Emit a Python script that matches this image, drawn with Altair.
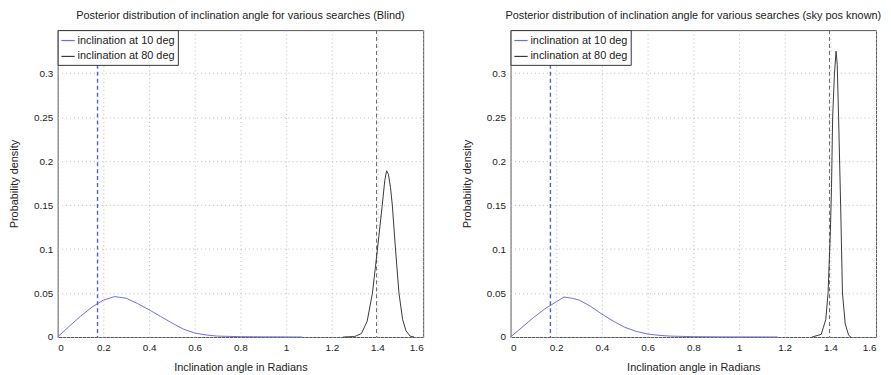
import altair as alt
import pandas as pd

# ---- data ----
blind_x10 = [0, 0.05, 0.1, 0.15, 0.2, 0.25, 0.3, 0.35, 0.4, 0.45, 0.5, 0.55, 0.6, 0.65, 0.7, 0.8, 0.9, 1.0, 1.07]
blind_y10 = [0, 0.012, 0.0235, 0.034, 0.042, 0.046, 0.044, 0.038, 0.031, 0.0235, 0.016, 0.009, 0.0045, 0.0023, 0.001, 0.0004, 0.0002, 0.0001, 0]
blind_x80 = [1.25, 1.30, 1.33, 1.355, 1.378, 1.40, 1.421, 1.432, 1.44, 1.448, 1.457, 1.465, 1.479, 1.494, 1.51, 1.525, 1.543, 1.56]
blind_y80 = [0, 0.0005, 0.004, 0.018, 0.05, 0.10, 0.15, 0.178, 0.189, 0.185, 0.17, 0.15, 0.10, 0.05, 0.02, 0.007, 0.001, 0]

sky_x10 = [0, 0.05, 0.1, 0.15, 0.2, 0.234, 0.27, 0.3, 0.35, 0.4, 0.45, 0.5, 0.55, 0.6, 0.65, 0.7, 0.8, 0.9, 1.0, 1.1, 1.17]
sky_y10 = [0, 0.011, 0.022, 0.032, 0.040, 0.0455, 0.044, 0.042, 0.035, 0.026, 0.018, 0.011, 0.0064, 0.0034, 0.0019, 0.001, 0.0004, 0.0002, 0.0001, 0.0001, 0]
sky_x80 = [1.32, 1.36, 1.38, 1.39, 1.40, 1.405, 1.41, 1.418, 1.425, 1.43, 1.436, 1.445, 1.453, 1.465, 1.48, 1.49]
sky_y80 = [0, 0.003, 0.02, 0.05, 0.12, 0.17, 0.25, 0.30, 0.325, 0.31, 0.25, 0.15, 0.05, 0.015, 0.002, 0]

series_names = ["inclination at 10 deg", "inclination at 80 deg"]
true_angle_10 = [0.1745]
true_angle_80 = [1.396]
x_ticks = [0, 0.2, 0.4, 0.6, 0.8, 1.0, 1.2, 1.4, 1.6]
y_ticks = [0, 0.05, 0.1, 0.15, 0.2, 0.25, 0.3]
titles = [
    "Posterior distribution of inclination angle for various searches (Blind)",
    "Posterior distribution of inclination angle for various searches (sky pos known)",
]

BLUE = "#6e6ee2"
DARK = "#3a3a3a"
VBLUE = "#5a5ae0"
VDARK = "#666666"
FONT = "Liberation Sans"


def panel(title, x10, y10, x80, y80):
    df = pd.DataFrame(
        {"x": x10 + x80, "y": y10 + y80,
         "series": [series_names[0]] * len(x10) + [series_names[1]] * len(x80)}
    )
    xs = alt.Scale(domain=[0, 1.6], nice=False)
    ys = alt.Scale(domain=[0, 0.349], nice=False)
    xa = alt.Axis(values=x_ticks, format="~g", title="Inclination angle in Radians",
                  grid=True, ticks=False, domain=False, labelPadding=6, titlePadding=9)
    ya = alt.Axis(values=y_ticks, format="~g", title="Probability density",
                  grid=True, ticks=False, domain=False, labelPadding=5, titlePadding=14)
    color = alt.Color("series:N", scale=alt.Scale(domain=series_names, range=[BLUE, DARK]),
                      legend=alt.Legend(title=None, orient="top-left", offset=0))
    lines = alt.Chart(df).mark_line(strokeWidth=1).encode(
        x=alt.X("x:Q", scale=xs, axis=xa),
        y=alt.Y("y:Q", scale=ys, axis=ya),
        color=color,
        detail="series:N",
    )
    v80 = alt.Chart(pd.DataFrame({"a80": true_angle_80})).mark_rule(
        strokeWidth=1, strokeDash=[4, 3], stroke=VDARK).encode(
        x=alt.X("a80:Q", scale=xs))
    v10 = alt.Chart(pd.DataFrame({"a10": true_angle_10})).mark_rule(
        strokeWidth=1.4, strokeDash=[4, 3], stroke=VBLUE).encode(
        x=alt.X("a10:Q", scale=xs))
    return alt.layer(v80, lines, v10).properties(
        width=368, height=309,
        title=alt.TitleParams(title, fontSize=11, fontWeight="normal", font=FONT,
                              color="#222", offset=8, anchor="middle"),
    )


left = panel(titles[0], blind_x10, blind_y10, blind_x80, blind_y80)
right = panel(titles[1], sky_x10, sky_y10, sky_x80, sky_y80)

chart = alt.hconcat(left, right, spacing=37).resolve_legend(color="independent").resolve_scale(
    color="independent"
).properties(
    padding={"left": 0, "top": 0, "right": 0, "bottom": 0},
    background="white",
).configure_view(stroke="#555", strokeWidth=1).configure_axis(
    labelFont=FONT, titleFont=FONT, labelFontSize=10, titleFontSize=11,
    labelColor="#222", titleColor="#222", titleFontWeight="normal",
    gridColor="#bbb", gridDash=[1, 3], gridWidth=1,
).configure_legend(
    labelFont=FONT, labelFontSize=11, labelColor="#222",
    symbolType="stroke", symbolSize=180, symbolStrokeWidth=1.2,
    strokeColor="#333", fillColor="white", padding=3, rowPadding=3,
    cornerRadius=0, labelOffset=2, offset=0,
)

chart.save("out.html", embed_options={"renderer": "svg", "actions": False})
